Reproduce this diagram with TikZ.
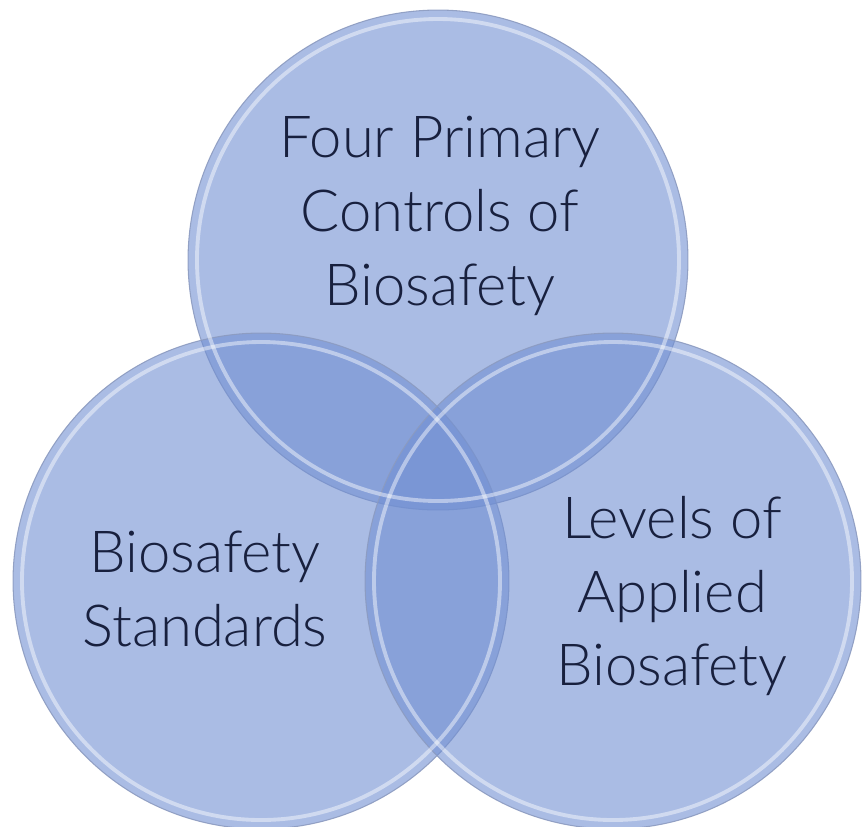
\documentclass[tikz,border=0pt]{standalone}
\usepackage{fontspec}
\setmainfont{Lato Light}
\definecolor{vennfill}{RGB}{113,143,210}
\definecolor{vennedge}{RGB}{140,155,192}
\definecolor{venntext}{RGB}{24,32,62}
\tikzset{
  venn/.style={circle, inner sep=0pt, fill=vennfill, fill opacity=0.6, draw=vennedge, draw opacity=0.9, line width=0.6pt},
  rim/.style={draw=white, draw opacity=0.45, line width=2.2pt},
  label/.style={align=center, inner sep=0pt, text=venntext, font=\fontsize{33}{42}\selectfont}
}
\begin{document}
\begin{tikzpicture}[x=0.02cm, y=-0.02cm]
\useasboundingbox (0,0) rectangle (865,826);
% circles
\node[venn, minimum size=10cm] (C) at (438,260) {};
\node[venn, minimum size=9.92cm] (S) at (261,581) {};
\node[venn, minimum size=9.92cm] (L) at (613,581) {};
\draw[rim] (C.center) circle[radius=241];
\foreach \n in {S,L}
  \draw[rim] (\n.center) circle[radius=239];
% texts
\node[label] (Ct) at (440,216) {Four Primary\\Controls of\\Biosafety};
\node[label] (St) at (205,589) {Biosafety\\Standards};
\node[label] (Lt) at (672,596) {Levels of\\Applied\\Biosafety};
\end{tikzpicture}
\end{document}
